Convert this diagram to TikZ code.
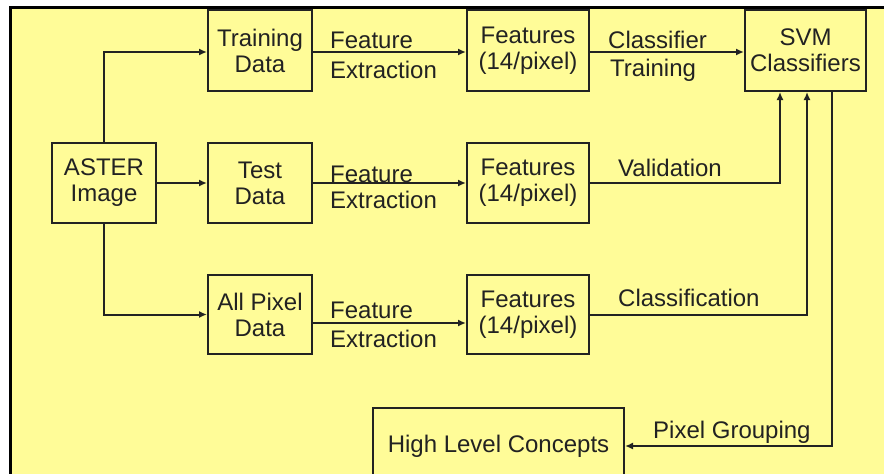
\documentclass[tikz,border=0pt]{standalone}
\usepackage{fontspec}
\setmainfont{Liberation Sans}
\usetikzlibrary{arrows.meta}
\definecolor{bgyellow}{HTML}{FFFC98}
\definecolor{ink}{HTML}{222222}
\begin{document}
\begin{tikzpicture}[x=1pt,y=-1pt,
  box/.style={draw=ink, line width=2pt, rectangle, inner sep=0pt, align=center, text=ink, font=\fontsize{24}{26}\selectfont},
  lbl/.style={anchor=base west, inner sep=0pt, text=ink, font=\fontsize{24}{26}\selectfont},
  conn/.style={draw=ink, line width=2pt},
  arr/.style={conn, -{Latex[length=8pt,width=7pt]}}]
\clip (0,0) rectangle (884,474);
\fill[white] (0,0) rectangle (884,474);
\fill[bgyellow] (10,7) rectangle (884,474);
\draw[line width=3pt] (10,474) -- (10,7) -- (884,7);

% boxes
\node[box, minimum width=104pt, minimum height=80pt] (aster) at (104,183) {ASTER\\Image};
\node[box, minimum width=104pt, minimum height=81pt] (train) at (260,50.5) {Training\\Data};
\node[box, minimum width=104pt, minimum height=80pt] (test) at (260,183) {Test\\Data};
\node[box, minimum width=104pt, minimum height=79pt] (allpix) at (260,314.5) {All Pixel\\Data};
\node[box, minimum width=122pt, minimum height=81pt] (f1) at (528,50.5) {Features\\(14/pixel)};
\node[box, minimum width=122pt, minimum height=80pt] (f2) at (528,183) {Features\\(14/pixel)};
\node[box, minimum width=122pt, minimum height=79pt] (f3) at (528,314.5) {Features\\(14/pixel)};
\node[box, minimum width=121pt, minimum height=81pt] (svm) at (805.5,50.5) {SVM\\Classifiers};
\node[box, minimum width=251pt, minimum height=76pt] (hlc) at (498.5,446) {High Level Concepts};

% connectors
\draw[arr] (aster.north) |- ([yshift=-1.5pt]train.west);
\draw[arr] (aster.east) -- (test.west);
\draw[arr] (aster.south) |- (allpix.west);
\draw[arr] ([yshift=-1.5pt]train.east) -- ([yshift=-1.5pt]f1.west);
\draw[arr] (test.east) -- (f2.west);
\draw[arr] ([yshift=-8.5pt]allpix.east) -- ([yshift=-8.5pt]f3.west);
\draw[arr] ([yshift=-1.5pt]f1.east) -- ([yshift=-1.5pt]svm.west);
\draw[arr] (f2.east) -| ([xshift=-25.5pt]svm.south);
\draw[arr] (f3.east) -| ([xshift=1.5pt]svm.south);
\draw[arr] ([xshift=26.5pt]svm.south) |- (hlc.east);

% labels
\node[lbl] (fe1a) at (330,48) {Feature};
\node[lbl] (fe1b) at (330,78) {Extraction};
\node[lbl] (fe2a) at (330,182) {Feature};
\node[lbl] (fe2b) at (330,208) {Extraction};
\node[lbl] (fe3a) at (330,318) {Feature};
\node[lbl] (fe3b) at (330,347) {Extraction};
\node[lbl] (ct1) at (608,48) {Classifier};
\node[lbl] (ct2) at (610,76) {Training};
\node[lbl] (val) at (618,176) {Validation};
\node[lbl] (cls) at (618,306) {Classification};
\node[lbl] (pg) at (653,438) {Pixel Grouping};
\end{tikzpicture}
\end{document}
